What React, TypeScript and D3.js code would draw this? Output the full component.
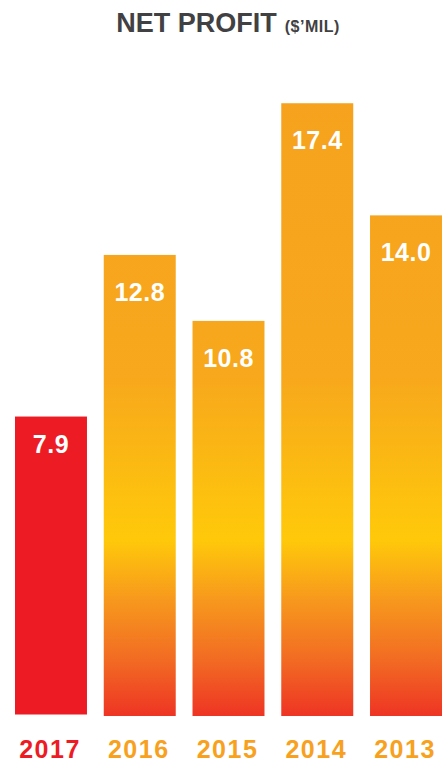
import React, { useEffect } from "react";
import * as d3 from "d3";

const years = ["2017", "2016", "2015", "2014", "2013"];
const profits = [7.9, 12.8, 10.8, 17.4, 14.0];
const highlightYear = "2017";
const titleMain = "NET PROFIT";
const titleUnit = "($’MIL)";

const W = 442;
const H = 764;
const baseY = 716;

export default function App() {
  useEffect(() => {
    document.body.style.margin = "0";
  }, []);

  const x = d3
    .scaleBand<string>()
    .domain(years)
    .range([15, 442])
    .paddingInner(0.189)
    .paddingOuter(0);

  const y = d3.scaleLinear().domain([-1.18, 18.2]).range([baseY, baseY - 32.98 * 19.38]);

  const font = "'Liberation Sans', Arial, Helvetica, sans-serif";

  return (
    <svg width={W} height={H} style={{ display: "block", position: "absolute", left: 0, top: 0 }}>
      <defs>
        <linearGradient id="barGrad" gradientUnits="userSpaceOnUse" x1="0" x2="0" y1="100" y2={baseY}>
          <stop offset="0" stopColor="#F6A21E" />
          <stop offset="0.45" stopColor="#F7A81C" />
          <stop offset="0.714" stopColor="#FFC90A" />
          <stop offset="0.81" stopColor="#F7991D" />
          <stop offset="0.909" stopColor="#F26B23" />
          <stop offset="1" stopColor="#EE3424" />
        </linearGradient>
      </defs>
      <text x={228} y={32} textAnchor="middle" fontFamily={font} fontWeight="bold" fill="#414042">
        <tspan fontSize={27}>{titleMain}</tspan>
        <tspan fontSize={16} dx={8} letterSpacing={0.5}>{titleUnit}</tspan>
      </text>
      {years.map((yr, i) => {
        const v = profits[i];
        const hl = yr === highlightYear;
        const bx = x(yr)!;
        const bw = x.bandwidth();
        const top = y(v);
        return (
          <g key={yr}>
            <rect
              x={bx}
              y={top}
              width={bw}
              height={(hl ? baseY - 1.5 : baseY) - top}
              fill={hl ? "#ED1C24" : "url(#barGrad)"}
            />
            <text
              x={bx + bw / 2}
              y={top + (hl ? 36 : 46)}
              textAnchor="middle"
              fontFamily={font}
              fontWeight="bold"
              fontSize={25}
              letterSpacing={0.5}
              fill="#ffffff"
            >
              {d3.format(".1f")(v)}
            </text>
            <text
              x={bx + bw / 2 - 1}
              y={758}
              textAnchor="middle"
              fontFamily={font}
              fontWeight="bold"
              fontSize={25}
              letterSpacing={1.5}
              fill={hl ? "#ED1C24" : "#F7A11E"}
            >
              {yr}
            </text>
          </g>
        );
      })}
    </svg>
  );
}
